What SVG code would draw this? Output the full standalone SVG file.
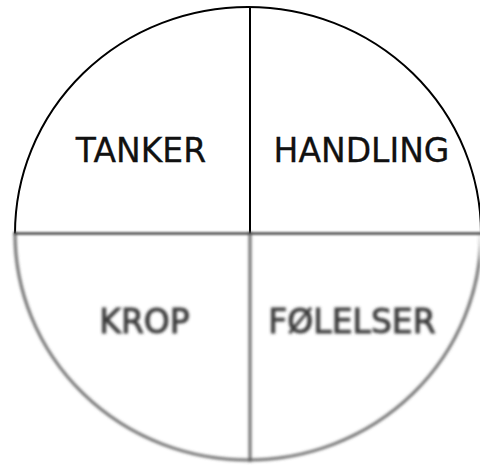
<svg xmlns="http://www.w3.org/2000/svg" width="480" height="465" viewBox="0 0 480 465">
  <defs>
    <clipPath id="topHalf"><rect x="0" y="0" width="480" height="233.5"/></clipPath>
    <clipPath id="bottomHalf"><rect x="0" y="232" width="480" height="233"/></clipPath>
    <filter id="blur" filterUnits="userSpaceOnUse" x="0" y="0" width="480" height="465">
      <feGaussianBlur stdDeviation="1.6"/>
    </filter>
    <filter id="soft" filterUnits="userSpaceOnUse" x="0" y="200" width="480" height="70">
      <feGaussianBlur stdDeviation="0.9"/>
    </filter>
  </defs>
  <style>
    .lbl { font-family: "DejaVu Sans", Verdana, sans-serif; font-size: 33px; text-anchor: middle; }
    .top { fill: #111; stroke: #111; stroke-width: 0.3; }
    .bot { fill: #3a3a3a; stroke: #3a3a3a; stroke-width: 0.9; }
    .ln { fill: none; stroke: #000; stroke-width: 2; }
    .lnb { fill: none; stroke: #555; stroke-width: 2.6; }
  </style>
  <rect width="480" height="465" fill="#fff"/>

  <g id="top-half" clip-path="url(#topHalf)">
    <ellipse class="ln" cx="248" cy="233.5" rx="233" ry="226.5"/>
    <line class="ln" x1="250" y1="7" x2="250" y2="234"/>
  </g>

  <g id="bottom-half" filter="url(#blur)">
    <g clip-path="url(#bottomHalf)">
      <ellipse class="lnb" cx="248" cy="233.5" rx="233" ry="226.5"/>
      <line class="lnb" x1="250" y1="232" x2="250" y2="462"/>
    </g>
  </g>

  <g id="divider" filter="url(#soft)">
    <line x1="14" y1="233.5" x2="482" y2="233.5" stroke="#444" stroke-width="2.4"/>
  </g>

  <g id="tanker">
    <text class="lbl top" x="141" y="162">TANKER</text>
  </g>
  <g id="handling">
    <text class="lbl top" x="361.5" y="162">HANDLING</text>
  </g>
  <g id="krop" filter="url(#blur)">
    <text class="lbl bot" x="144.5" y="333">KROP</text>
  </g>
  <g id="folelser" filter="url(#blur)">
    <text class="lbl bot" x="352" y="333">FØLELSER</text>
  </g>
</svg>
